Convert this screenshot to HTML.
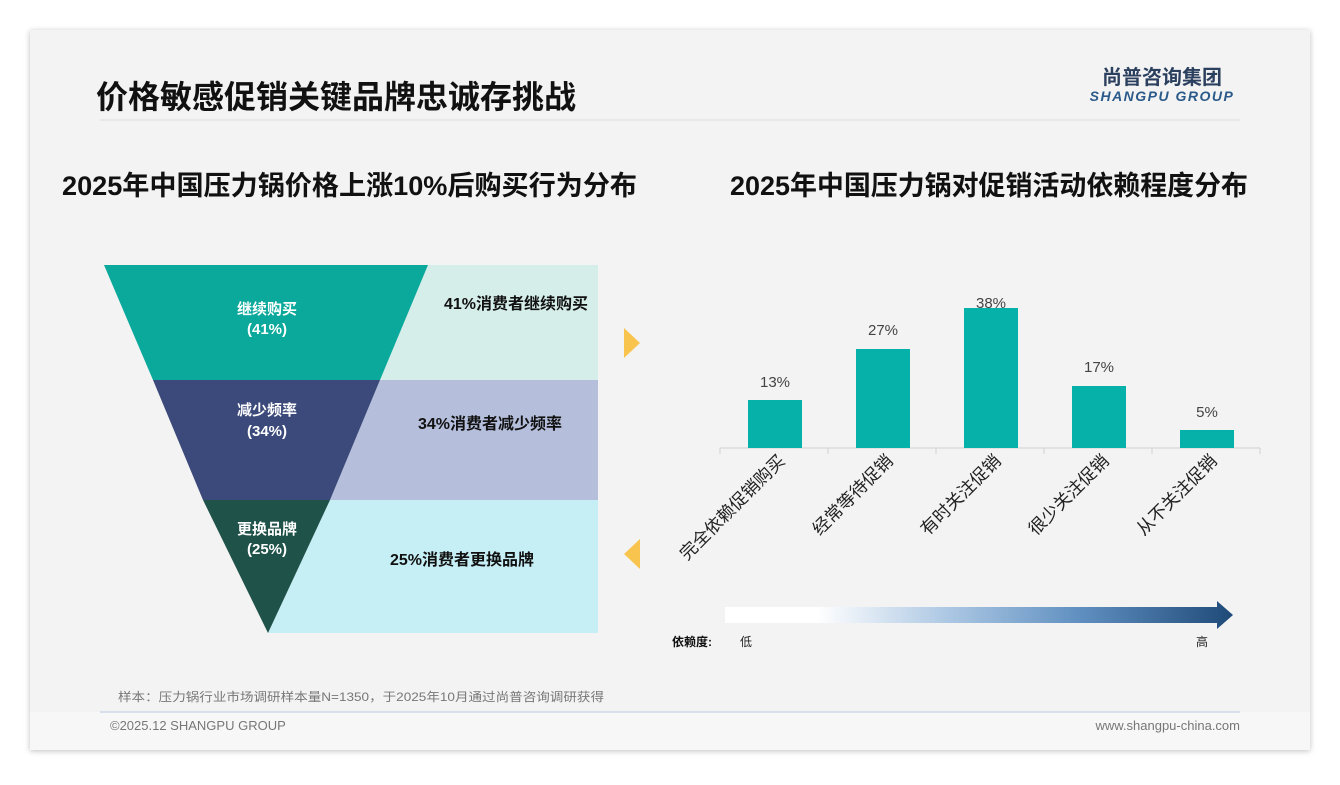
<!DOCTYPE html>
<html><head><meta charset="utf-8"><style>
body{margin:0;background:#fff;width:1340px;height:780px;overflow:hidden}
text{font-family:"Liberation Sans","Noto Sans CJK SC",sans-serif}
</style></head><body>
<svg width="1340" height="780" viewBox="0 0 1340 780">
<defs>
<filter id="sh" x="-5%" y="-5%" width="110%" height="110%"><feDropShadow dx="0" dy="1" stdDeviation="3" flood-color="#000" flood-opacity="0.25"/></filter>
<linearGradient id="g" x1="0" x2="1"><stop offset="0" stop-color="#fff"/><stop offset="0.18" stop-color="#fff"/><stop offset="0.45" stop-color="#a9c5e2"/><stop offset="0.7" stop-color="#5f8fc0"/><stop offset="1" stop-color="#1f4a78"/></linearGradient>
</defs>
<rect x="30" y="30" width="1280" height="720" fill="#f3f3f3" filter="url(#sh)"/>
<rect x="30" y="712" width="1280" height="38" fill="#f7f7f7"/>
<line x1="100" y1="120" x2="1240" y2="120" stroke="#dcdcdc"/>
<line x1="100" y1="712" x2="1240" y2="712" stroke="#b8c8dc"/>
<text x="96" y="108" font-size="32" font-weight="bold" fill="#111" textLength="480" lengthAdjust="spacingAndGlyphs">价格敏感促销关键品牌忠诚存挑战</text>
<text x="1162" y="84" font-size="20" font-weight="bold" fill="#2b3f5e" text-anchor="middle">尚普咨询集团</text>
<text x="1162" y="101" font-size="14" font-weight="bold" font-style="italic" fill="#2a5a8a" text-anchor="middle" letter-spacing="1.5">SHANGPU GROUP</text>
<text x="62" y="195" font-size="27" font-weight="bold" fill="#111" textLength="575" lengthAdjust="spacingAndGlyphs">2025年中国压力锅价格上涨10%后购买行为分布</text>
<text x="730" y="195" font-size="27" font-weight="bold" fill="#111" textLength="518" lengthAdjust="spacingAndGlyphs">2025年中国压力锅对促销活动依赖程度分布</text>
<polygon points="428,265 598,265 598,380 380,380" fill="#d5eeea"/>
<polygon points="380,380 598,380 598,500 330,500" fill="#b5bedb"/>
<polygon points="330,500 598,500 598,633 268,633" fill="#c5eef5"/>
<polygon points="104,265 428,265 380,380 153,380" fill="#0aa99c"/>
<polygon points="153,380 380,380 330,500 203,500" fill="#3b4a7a"/>
<polygon points="203,500 330,500 268,633" fill="#1f5248"/>
<g font-size="15" font-weight="bold" fill="#fff" text-anchor="middle">
<text x="267" y="314">继续购买</text><text x="267" y="334">(41%)</text>
<text x="267" y="415">减少频率</text><text x="267" y="436">(34%)</text>
<text x="267" y="534">更换品牌</text><text x="267" y="554">(25%)</text>
</g>
<g font-size="16" font-weight="bold" fill="#111" text-anchor="middle">
<text x="516" y="309">41%消费者继续购买</text>
<text x="490" y="429">34%消费者减少频率</text>
<text x="462" y="565">25%消费者更换品牌</text>
</g>
<polygon points="624,328 640,343 624,358" fill="#f9c44e"/>
<polygon points="640,539 624,554 640,569" fill="#f9c44e"/>
<line x1="720" y1="448" x2="1260" y2="448" stroke="#d0d0d0"/>
<g stroke="#d0d0d0"><line x1="720" y1="448" x2="720" y2="454"/><line x1="828" y1="448" x2="828" y2="454"/><line x1="936" y1="448" x2="936" y2="454"/><line x1="1044" y1="448" x2="1044" y2="454"/><line x1="1152" y1="448" x2="1152" y2="454"/><line x1="1260" y1="448" x2="1260" y2="454"/></g>
<g fill="#05b1a8">
<rect x="748" y="400" width="54" height="48"/>
<rect x="856" y="349" width="54" height="99"/>
<rect x="964" y="308" width="54" height="140"/>
<rect x="1072" y="386" width="54" height="62"/>
<rect x="1180" y="430" width="54" height="18"/>
</g>
<g font-size="15" fill="#444" text-anchor="middle">
<text x="775" y="387">13%</text><text x="883" y="335">27%</text><text x="991" y="308">38%</text><text x="1099" y="372">17%</text><text x="1207" y="417">5%</text>
</g>
<g font-size="17.5" fill="#222" text-anchor="end">
<text transform="translate(786,462) rotate(-45)">完全依赖促销购买</text>
<text transform="translate(894,462) rotate(-45)">经常等待促销</text>
<text transform="translate(1002,462) rotate(-45)">有时关注促销</text>
<text transform="translate(1110,462) rotate(-45)">很少关注促销</text>
<text transform="translate(1218,462) rotate(-45)">从不关注促销</text>
</g>
<polygon points="725,607 1217,607 1217,601 1233,615 1217,629 1217,623 725,623" fill="url(#g)"/>
<text x="672" y="646" font-size="12" font-weight="bold" fill="#111">依赖度:</text>
<text x="740" y="646" font-size="12" fill="#222">低</text>
<text x="1196" y="646" font-size="12" fill="#222">高</text>
<text x="118" y="701" font-size="12" fill="#777" textLength="486" lengthAdjust="spacingAndGlyphs">样本：压力锅行业市场调研样本量N=1350，于2025年10月通过尚普咨询调研获得</text>
<text x="110" y="730" font-size="13" fill="#777">©2025.12 SHANGPU GROUP</text>
<text x="1240" y="730" font-size="13" fill="#777" text-anchor="end">www.shangpu-china.com</text>
</svg>
</body></html>
